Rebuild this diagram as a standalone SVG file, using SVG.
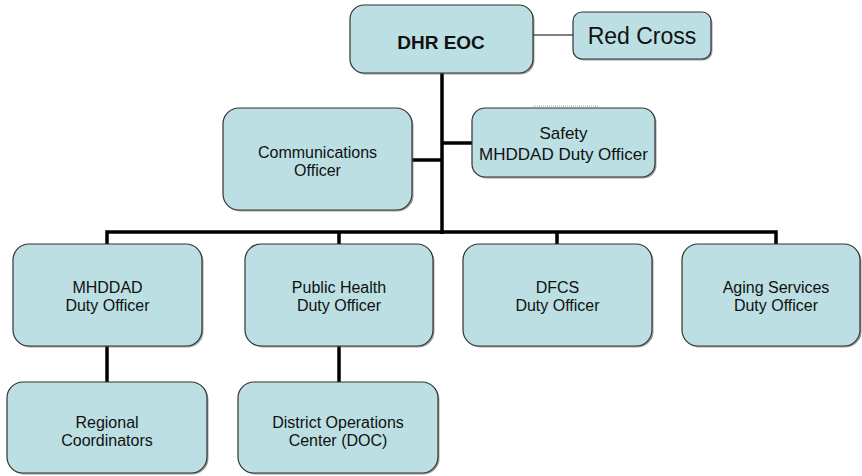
<svg xmlns="http://www.w3.org/2000/svg" width="862" height="476" viewBox="0 0 862 476">
<style>
.box{fill:#bbdfe2;stroke:#333;stroke-width:1.2}
.sh{fill:#555;opacity:0.55}
.t{font-family:"Liberation Sans",Arial,sans-serif;font-size:16px;fill:#111;text-anchor:middle}
.c{stroke:#000;stroke-width:3.5;fill:none}
.thin{stroke:#000;stroke-width:1.2;fill:none}
</style>
<rect width="862" height="476" fill="#fff"/>
<g id="connectors">
<line class="thin" x1="533" y1="35" x2="573" y2="35"/>
<line class="c" x1="442" y1="73" x2="442" y2="234"/>
<line class="c" x1="412" y1="160" x2="442" y2="160"/>
<line class="c" x1="442" y1="143" x2="472" y2="143"/>
<polyline class="c" points="107,245 107,232 776,232 776,245"/>
<line class="c" x1="339" y1="232" x2="339" y2="245"/>
<line class="c" x1="557" y1="232" x2="557" y2="245"/>
<line class="c" x1="107" y1="346" x2="107" y2="382"/>
<line class="c" x1="339" y1="346" x2="339" y2="382"/>
<line x1="533" y1="106" x2="598" y2="106" stroke="#aaa" stroke-width="1" stroke-dasharray="1,1"/>
</g>
<g id="dhr-eoc">
<rect class="sh" x="351.5" y="6.5" width="183" height="68" rx="14"/>
<rect class="box" x="350" y="5" width="183" height="68" rx="14"/>
<text class="t" x="441" y="49" style="font-size:19px;font-weight:bold">DHR EOC</text>
</g>
<g id="red-cross">
<rect class="sh" x="574.5" y="13.5" width="138" height="47" rx="9"/>
<rect class="box" x="573" y="12" width="138" height="47" rx="9"/>
<text class="t" x="642" y="44" style="font-size:23px">Red Cross</text>
</g>
<g id="communications">
<rect class="sh" x="224.5" y="109.5" width="189" height="102" rx="16"/>
<rect class="box" x="223" y="108" width="189" height="102" rx="16"/>
<text class="t" x="317.5" y="157.5">Communications</text>
<text class="t" x="317.5" y="175.5">Officer</text>
</g>
<g id="safety">
<rect class="sh" x="473.5" y="109.5" width="183" height="69" rx="13"/>
<rect class="box" x="472" y="108" width="183" height="69" rx="13"/>
<text class="t" x="563.5" y="139" style="font-size:17px">Safety</text>
<text class="t" x="563.5" y="160" style="font-size:17px">MHDDAD Duty Officer</text>
</g>
<g id="mhddad">
<rect class="sh" x="14.5" y="245.5" width="189" height="102" rx="16"/>
<rect class="box" x="13" y="244" width="189" height="102" rx="16"/>
<text class="t" x="107.5" y="292.5">MHDDAD</text>
<text class="t" x="107.5" y="310.5">Duty Officer</text>
</g>
<g id="public-health">
<rect class="sh" x="246.5" y="245.5" width="188" height="102" rx="16"/>
<rect class="box" x="245" y="244" width="188" height="102" rx="16"/>
<text class="t" x="339" y="292.5">Public Health</text>
<text class="t" x="339" y="310.5">Duty Officer</text>
</g>
<g id="dfcs">
<rect class="sh" x="464.5" y="245.5" width="189" height="102" rx="16"/>
<rect class="box" x="463" y="244" width="189" height="102" rx="16"/>
<text class="t" x="557.5" y="292.5">DFCS</text>
<text class="t" x="557.5" y="310.5">Duty Officer</text>
</g>
<g id="aging">
<rect class="sh" x="683.5" y="245.5" width="178" height="102" rx="16"/>
<rect class="box" x="682" y="244" width="178" height="102" rx="16"/>
<text class="t" x="776" y="292.5">Aging Services</text>
<text class="t" x="776" y="310.5">Duty Officer</text>
</g>
<g id="regional">
<rect class="sh" x="8.5" y="383.5" width="200" height="91" rx="16"/>
<rect class="box" x="7" y="382" width="200" height="91" rx="16"/>
<text class="t" x="107" y="427.5">Regional</text>
<text class="t" x="107" y="445.5">Coordinators</text>
</g>
<g id="doc">
<rect class="sh" x="239.5" y="383.5" width="200" height="91" rx="16"/>
<rect class="box" x="238" y="382" width="200" height="91" rx="16"/>
<text class="t" x="338" y="427.5">District Operations</text>
<text class="t" x="338" y="445.5">Center (DOC)</text>
</g>
</svg>
